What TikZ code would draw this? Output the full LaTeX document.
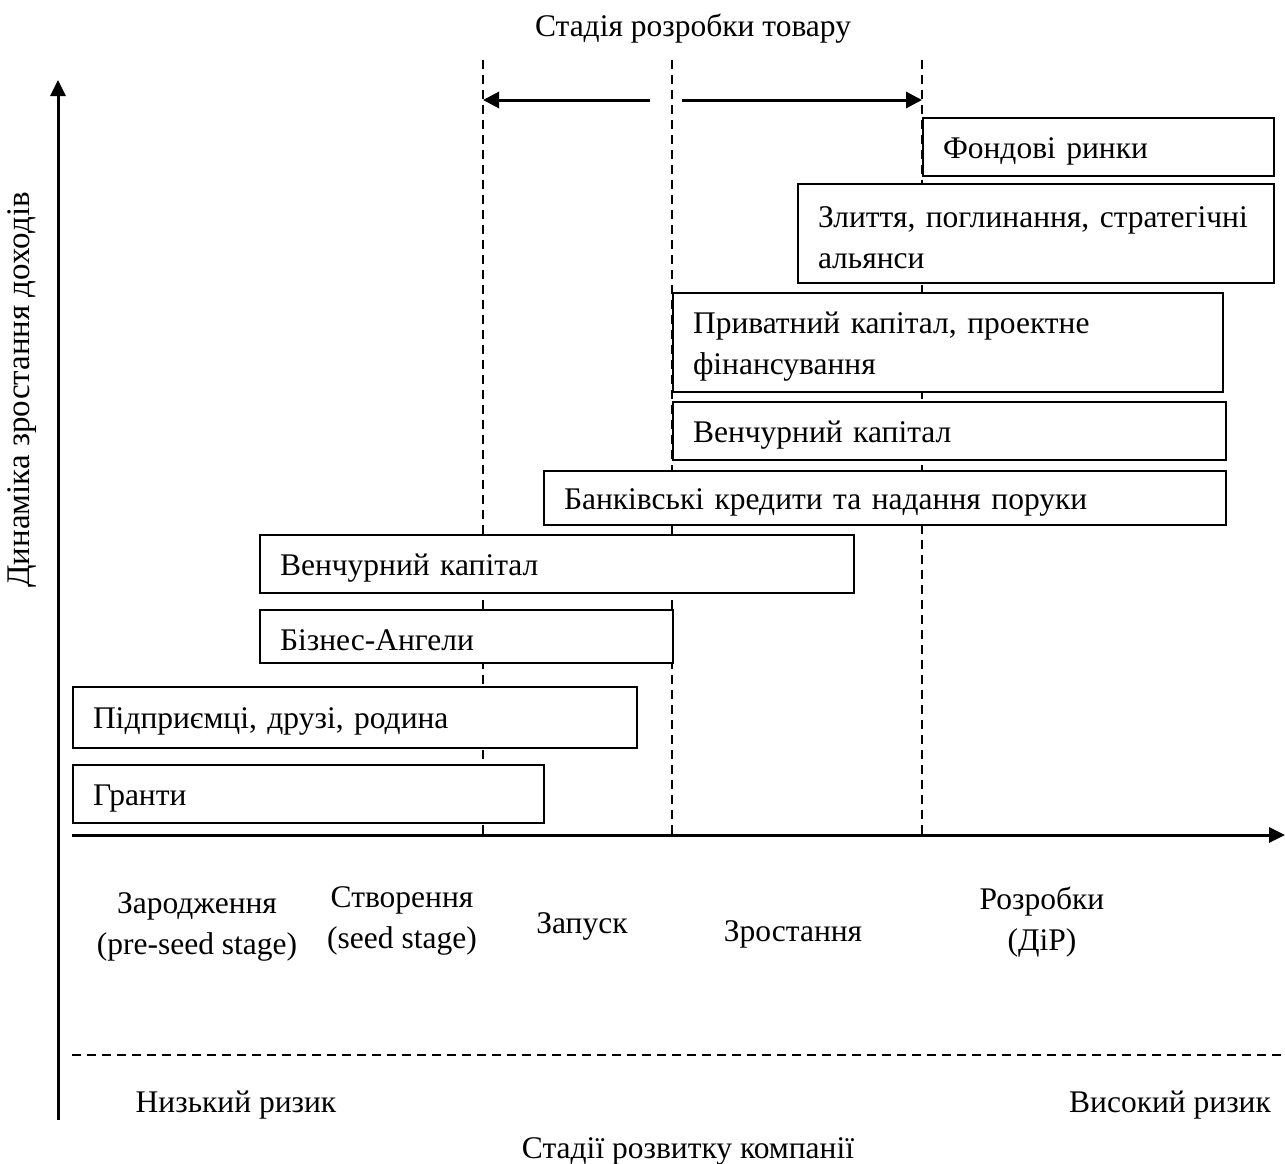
\documentclass[tikz,border=0pt]{standalone}
\usepackage{fontspec}
\setmainfont{Liberation Serif}
\usetikzlibrary{arrows.meta}
\begin{document}
\begin{tikzpicture}[x=1pt,y=-1pt,
  every node/.style={font=\fontsize{31.5}{41}\selectfont},
  fundbox/.style={draw, fill=white, line width=2pt, anchor=north west,
    inner xsep=20pt, inner ysep=0pt, align=left,
    execute at begin node={\rule{0pt}{29pt}}},
  axis/.style={line width=3pt, -{Triangle[length=16pt,width=15pt]}},
  guide/.style={line width=1.8pt, dash pattern=on 9pt off 6pt},
  spanarrow/.style={line width=3pt, -{Triangle[length=16pt,width=16pt]}},
  lbl/.style={align=center, inner sep=0pt}]
\useasboundingbox (0,0) rectangle (1285,1164);

% stage boundaries
\coordinate (g1t) at (483,60);  \coordinate (g1b) at (483,835);
\coordinate (g2t) at (672,60);  \coordinate (g2b) at (672,835);
\coordinate (g3t) at (922,60);  \coordinate (g3b) at (922,835);
\draw[guide] (g1t) -- (g1b);
\draw[guide] (g2t) -- (g2b);
\draw[guide] (g3t) -- (g3b);

% product development span
\coordinate (la) at (650,100); \coordinate (lb) at (483,100);
\coordinate (ra) at (682,100); \coordinate (rb) at (922,100);
\draw[spanarrow] (la) -- (lb);
\draw[spanarrow] (ra) -- (rb);
\node[lbl] (top) at (693,29) {Стадія розробки товару};

% axes
\coordinate (yo) at (58,1120); \coordinate (yt) at (58,80);
\coordinate (xo) at (72,835);  \coordinate (xt) at (1285,835);
\draw[axis] (yo) -- (yt);
\draw[axis] (xo) -- (xt);
\node[lbl, rotate=90, font=\fontsize{33}{41}\selectfont] (ylab) at (22,390) {Динаміка зростання доходів};

% risk separator
\coordinate (r1) at (72,1055); \coordinate (r2) at (1285,1055);
\draw[guide] (r1) -- (r2);

% financing sources
\node[fundbox, text width=311pt, minimum height=58pt] (b1) at (922,117) {Фондові ринки};
\node[fundbox, text width=436pt, minimum height=99pt] (b2) at (797,183) {Злиття, поглинання, стратегічні\\альянси};
\node[fundbox, text width=510pt, minimum height=99pt] (b3) at (672,292) {Приватний капітал, проектне\\фінансування};
\node[fundbox, text width=513pt, minimum height=58pt] (b4) at (672,401) {Венчурний капітал};
\node[fundbox, text width=642pt, minimum height=54pt] (b5) at (543,470) {Банківські кредити та надання поруки};
\node[fundbox, text width=554pt, minimum height=58pt] (b6) at (259,534) {Венчурний капітал};
\node[fundbox, text width=373pt, minimum height=53pt] (b7) at (259,609) {Бізнес-Ангели};
\node[fundbox, text width=524pt, minimum height=61pt] (b8) at (72,686) {Підприємці, друзі, родина};
\node[fundbox, text width=431pt, minimum height=58pt] (b9) at (72,764) {Гранти};

% company stages
\node[lbl] (s1) at (197,927) {Зародження\\(pre-seed stage)};
\node[lbl] (s2) at (402,921) {Створення\\(seed stage)};
\node[lbl] (s3) at (582,926) {Запуск};
\node[lbl] (s4) at (793,934) {Зростання};
\node[lbl] (s5) at (1042,922) {Розробки\\(ДіР)};

\node[lbl] (lowr) at (236,1105) {Низький ризик};
\node[lbl] (highr) at (1170,1105) {Високий ризик};
\node[lbl] (bot) at (688,1151) {Стадії розвитку компанії};
\end{tikzpicture}
\end{document}
